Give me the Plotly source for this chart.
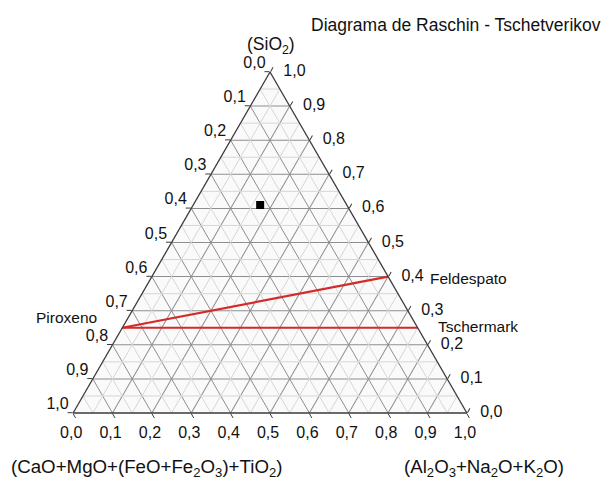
import plotly.graph_objects as go

# Ternary components: a = SiO2 (top), b = CaO+MgO+(FeO+Fe2O3)+TiO2 (bottom left),
# c = Al2O3+Na2O+K2O (bottom right)
tick_values = [i / 10 for i in range(11)]
minor_values = [0.05 + i / 10 for i in range(10)]


def fmt(v):
    return f"{v:.1f}".replace(".", ",")


NBSP = "\u00a0"

# Reference lines between end-member compositions (a, b, c)
pyroxene = (0.25, 0.75, 0.0)
feldspar = (0.40, 0.0, 0.60)
tschermak = (0.25, 0.0, 0.75)

# Sample composition
sample_a = [0.61]
sample_b = [0.22]
sample_c = [0.17]

W, H = 613, 479
left, right, top, bottom = 73, 467, 72, 413

font = "Liberation Sans, Arial, sans-serif"
text_color = "#111111"
major_grid = "#8e8e8e"
minor_grid = "#d6d6d6"
edge = "#3a3a3a"
red = "#d42a2a"

fig = go.Figure()

# Minor grid at every 0.05 (odd multiples) for each component
ma, mb, mc = [], [], []
for k in minor_values:
    # constant a
    ma += [k, k, None]; mb += [1 - k, 0, None]; mc += [0, 1 - k, None]
    # constant b
    ma += [1 - k, 0, None]; mb += [k, k, None]; mc += [0, 1 - k, None]
    # constant c
    ma += [1 - k, 0, None]; mb += [0, 1 - k, None]; mc += [k, k, None]
fig.add_trace(go.Scatterternary(
    a=ma, b=mb, c=mc, mode="lines",
    line=dict(color=minor_grid, width=1),
    hoverinfo="skip", showlegend=False,
))

# Pyroxene - feldspar and pyroxene - Tschermak lines
for end in (feldspar, tschermak):
    fig.add_trace(go.Scatterternary(
        a=[pyroxene[0], end[0]], b=[pyroxene[1], end[1]], c=[pyroxene[2], end[2]],
        mode="lines", line=dict(color=red, width=2.2),
        hoverinfo="skip", showlegend=False,
    ))

fig.add_trace(go.Scatterternary(
    a=sample_a, b=sample_b, c=sample_c, mode="markers",
    marker=dict(symbol="square", size=8, color="black"),
    showlegend=False,
))

tick_font = dict(family=font, size=16, color=text_color)

# Left edge labels: value of the bottom-left component along the edge
fig.add_trace(go.Scatterternary(
    a=tick_values, b=[1 - v for v in tick_values], c=[0] * len(tick_values),
    mode="text", text=[fmt(1 - v) + NBSP for v in tick_values],
    textposition="top left", textfont=tick_font, cliponaxis=False,
    hoverinfo="skip", showlegend=False,
))

# Right edge labels: SiO2 value along the edge
fig.add_trace(go.Scatterternary(
    a=tick_values, b=[0] * len(tick_values), c=[1 - v for v in tick_values],
    mode="text", text=[NBSP * 3 + fmt(v) for v in tick_values],
    textposition="middle right", textfont=tick_font, cliponaxis=False,
    hoverinfo="skip", showlegend=False,
))

axis_common = dict(
    tickmode="array", tickvals=tick_values,
    showgrid=True, gridcolor=major_grid, gridwidth=1,
    showline=True, linecolor=edge, linewidth=1.3,
    ticks="outside", ticklen=5, tickcolor=edge,
    tickfont=tick_font, showticklabels=False,
    min=0, title=dict(text=""),
)
# Bottom edge labels read the bottom-right component
b_axis = dict(axis_common, showticklabels=True,
              ticktext=[fmt(1 - v) + NBSP * 2 for v in tick_values])

fig.update_layout(
    width=W, height=H,
    margin=dict(l=0, r=0, t=0, b=0),
    paper_bgcolor="white",
    showlegend=False,
    ternary=dict(
        sum=1,
        domain=dict(x=[left / W, right / W], y=[1 - bottom / H, 1 - top / H]),
        bgcolor="#fafafa",
        aaxis=axis_common,
        baxis=b_axis,
        caxis=axis_common,
    ),
)


def px(x, y):
    return x / W, 1 - y / H


def label(text, x, y, size=15, xanchor="left"):
    xx, yy = px(x, y)
    fig.add_annotation(
        text=text, x=xx, y=yy, xref="paper", yref="paper",
        xanchor=xanchor, yanchor="middle", showarrow=False,
        font=dict(family=font, size=size, color=text_color),
    )


label("Diagrama de Raschin - Tschetverikov", 309, 25, size=17.5)
label("(SiO<sub>2</sub>)", 271, 45, size=17.5, xanchor="center")
label("(CaO+MgO+(FeO+Fe<sub>2</sub>O<sub>3</sub>)+TiO<sub>2</sub>)", 9, 468, size=18.7)
label("(Al<sub>2</sub>O<sub>3</sub>+Na<sub>2</sub>O+K<sub>2</sub>O)", 402, 468, size=18.7)
label("Piroxeno", 99, 317, size=15.5, xanchor="right")
label("Feldespato", 428, 278, size=15.5)
label("Tschermark", 436, 326, size=15.5)

fig.write_html("out.html")
